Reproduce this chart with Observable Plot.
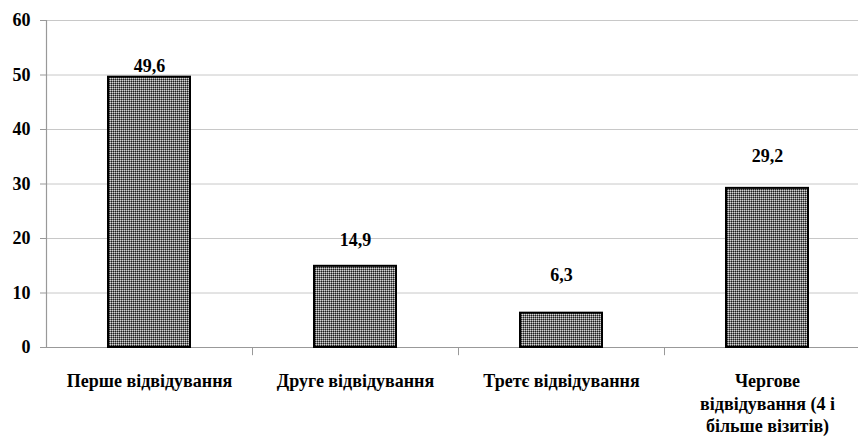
<!DOCTYPE html>
<html>
<head>
<meta charset="utf-8">
<script src="https://cdn.jsdelivr.net/npm/d3@7"></script>
<script src="https://cdn.jsdelivr.net/npm/@observablehq/plot@0.6"></script>
<style>
  html, body { margin: 0; padding: 0; background: #fff; }
  #chart svg { display: block; }
</style>
</head>
<body>
<div id="chart"></div>
<script>
const categories = ["Перше відвідування", "Друге відвідування", "Третє відвідування", "Чергове відвідування (4 і більше візитів)"];
const categoryLabels = ["Перше відвідування", "Друге відвідування", "Третє відвідування", "Чергове\nвідвідування (4 і\nбільше візитів)"];
const values = [49.6, 14.9, 6.3, 29.2];
const valueLabels = ["49,6", "14,9", "6,3", "29,2"];
const yTicks = [0, 10, 20, 30, 40, 50, 60];

const data = categories.map((c, i) => ({cat: c, value: values[i], label: valueLabels[i], tick: categoryLabels[i]}));
const labelDy = [-11, -26, -38, -32];
const font = "Liberation Serif";

const plot = Plot.plot({
  width: 858,
  height: 441,
  marginLeft: 46,
  marginRight: 0,
  marginTop: 20,
  marginBottom: 94,
  x: {domain: categories, range: [46, 870], paddingInner: 0.6, paddingOuter: 0.3, axis: null},
  y: {domain: [0, 60], axis: null},
  marks: [
    Plot.gridY(yTicks, {stroke: "#c8c8c8", strokeOpacity: 1}),
    Plot.ruleY([0], {stroke: "#999", strokeWidth: 1.2}),
    Plot.frame({anchor: "left", stroke: "#999", strokeWidth: 1.2}),
    Plot.axisY(yTicks, {tickSize: 6, tickPadding: 10, stroke: "#999", fontSize: 18, fontFamily: font, fontWeight: "bold", fill: "#000", label: null}),
    Plot.ruleX(categories.slice(1), {x: d => d, dx: -103, y1: 0, y2: -1.5, stroke: "#999"}),
    Plot.barY(data, {x: "cat", y: "value", fill: "url(#dots)", stroke: "#000", strokeWidth: 2}),
    Plot.text(data, {x: "cat", y: "value", text: "label", fontSize: 18, fontFamily: font, fontWeight: "bold", fill: "#000"}),
    Plot.text(data, {x: "cat", text: "tick", frameAnchor: "bottom", lineAnchor: "top", dy: 24, lineHeight: 1.25, fontSize: 18, fontFamily: font, fontWeight: "bold", fill: "#000"})
  ]
});

// per-label vertical offsets, as in the reference
const labelGroups = plot.querySelectorAll("g[aria-label='text']");
if (labelGroups.length) {
  const texts = labelGroups[0].querySelectorAll("text");
  texts.forEach((t, i) => {
    const tr = t.getAttribute("transform") || "";
    t.setAttribute("transform", tr + ` translate(0,${labelDy[i]})`);
  });
}

// force the serif face on every text node
plot.querySelectorAll("text, tspan").forEach(t => {
  t.setAttribute("font-family", font);
  t.style.setProperty("font-family", "'Liberation Serif', serif", "important");
  t.style.setProperty("font-weight", "700", "important");
});

const ns = "http://www.w3.org/2000/svg";
const defs = document.createElementNS(ns, "defs");
const pat = document.createElementNS(ns, "pattern");
pat.setAttribute("id", "dots");
pat.setAttribute("width", "2");
pat.setAttribute("height", "2");
pat.setAttribute("patternUnits", "userSpaceOnUse");
[[0, 0, 2, 2, "#7a7a7a"], [0, 0, 1, 1, "#d4d4d4"], [1, 1, 1, 1, "#1e1e1e"]].forEach(([x, y, w, h, f]) => {
  const r = document.createElementNS(ns, "rect");
  r.setAttribute("x", x); r.setAttribute("y", y);
  r.setAttribute("width", w); r.setAttribute("height", h);
  r.setAttribute("fill", f);
  pat.appendChild(r);
});
defs.appendChild(pat);
plot.insertBefore(defs, plot.firstChild);

document.getElementById("chart").appendChild(plot);
</script>
</body>
</html>
